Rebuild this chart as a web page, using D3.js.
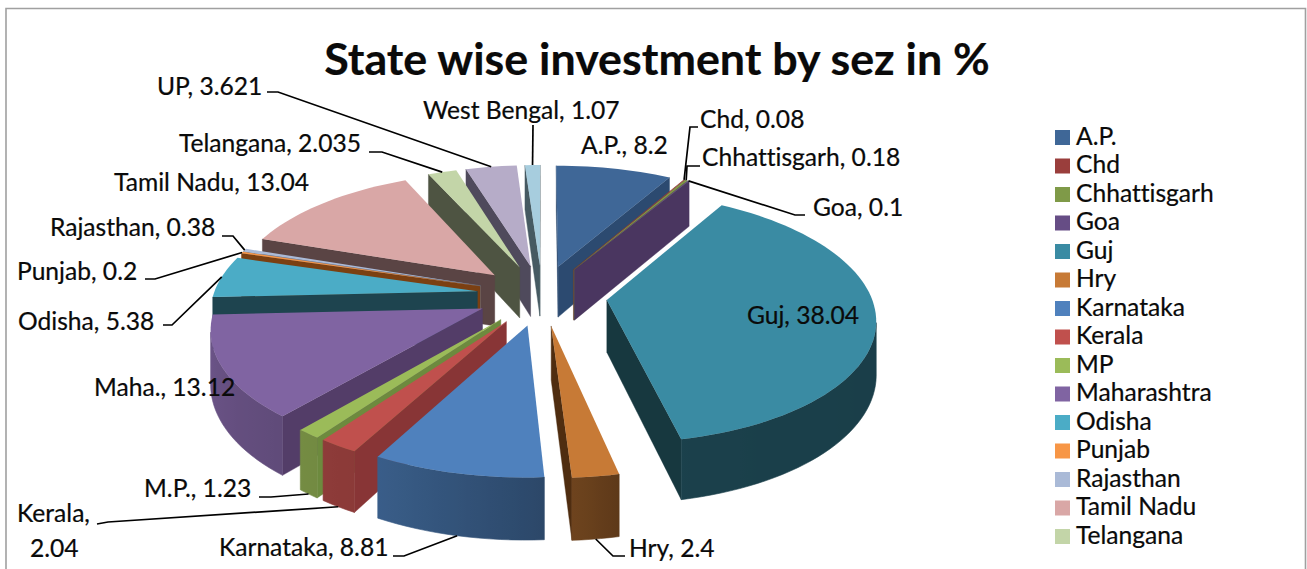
<!DOCTYPE html>
<html><head><meta charset="utf-8">
<script src="https://cdn.jsdelivr.net/npm/d3@7"></script>
<style>html,body{margin:0;padding:0;background:#fff;overflow:hidden}svg{display:block}text{font-family:Lato,"Open Sans",sans-serif;fill:#0a0a0a;stroke:#0a0a0a;stroke-width:.22px;font-variant-ligatures:none}</style>
</head><body><svg id="c" width="1307" height="569"></svg>
<script>
const categories=["A.P.","Chd","Chhattisgarh","Goa","Guj","Hry","Karnataka","Kerala","MP","Maharashtra","Odisha","Punjab","Rajasthan","Tamil Nadu","Telangana","UP","West Bengal"];
const values=[8.2,0.08,0.18,0.1,38.04,2.4,8.81,2.04,1.23,13.12,5.38,0.2,0.38,13.04,2.035,3.621,1.07];
const valueLabels=["8.2","0.08","0.18","0.1","38.04","2.4","8.81","2.04","1.23","13.12","5.38","0.2","0.38","13.04","2.035","3.621","1.07"];
const labelNames=["A.P.","Chd","Chhattisgarh","Goa","Guj","Hry","Karnataka","Kerala","M.P.","Maha.","Odisha","Punjab","Rajasthan","Tamil Nadu","Telangana","UP","West Bengal"];
const legendCount=15;
const topColors=["#3f6797","#9a3e3c","#7f9a48","#664d85","#3a8ba3","#c77a36","#4f81bd","#c0504d","#9bbb59","#8064a2","#4bacc6","#f79646","#aabad7","#d9a7a6","#c3d5a8","#b6acc8","#a7cdde"];
const wallColors=["#2c4a70","#7a2f2e","#63793a","#4a3660","#17383f","#4f2d10","#2f4c72","#883536","#6d8a3e","#533d68","#1e444f","#7b4012","#6f7d96","#5a4444","#4e5442","#4f4a5c","#465a62"];
// label layout: text start x, centre y, leader waypoints
const labelX=[581,700,702,813,747,629,219,17,144,94,18,17,50,114,179,157,423];
const labelY=[148,122,160,210,318,551,550,516,491,390,324,274,230,185,146,89,113];
const leaders=[null,[[698,127],[690,127]],[[700,166],[687,166]],[[805,215],[795,215]],null,[[625,556],[613,556]],[[393,556],[404,556]],[[97,524],[108,522]],[[259,497],[271,497]],null,[[163,325],[172,325]],[[145,279],[155,279]],[[222,236],[233,236]],null,[[369,152],[382,152]],[[267,92],[278,92]],[[533,125]]];

const W=1307,H=569;
const cx=542,cy=295,R=264,B=122,K=0.1366,E=0.2475,D=52;
const svg=d3.select("#c");
const defs=svg.append("defs");
svg.append("path").attr("d",`M6 ${H+2}V8.5H1305.5V${H+2}`).attr("fill","none").attr("stroke","#a0a0a0").attr("stroke-width",1.6);

const pie=d3.pie().sort(null).startAngle(0).endAngle(2*Math.PI);
const arcs=pie(values).map((a,i)=>({...a,i,mid:(a.startAngle+a.endAngle)/2}));
const line=d3.line();
function project(a,r,th){
  const u=E*Math.sin(a.mid)+r*Math.sin(th);
  const v=-(E*Math.cos(a.mid))-r*Math.cos(th);
  const s=1/(1-K*v);
  return {x:cx+u*R*s,y:cy+v*B*s,d:D*s};
}
const shade=d3.scaleLinear().domain([0,167,176,207,265,360].map(d=>d*Math.PI/180)).range([.42,.46,.55,.72,.85,.85]);
const mult=(c,k)=>{const q=d3.rgb(c);return d3.rgb(q.r*k,q.g*k,q.b*k).formatHex();};
const quad=(p,q)=>line([[p.x,p.y],[q.x,q.y],[q.x,q.y+q.d],[p.x,p.y+p.d]])+"Z";

const g=svg.append("g");
const order=arcs.slice().sort((a,b)=>Math.cos(b.mid)-Math.cos(a.mid));
order.forEach(a=>{
  const sl=g.append("g").attr("class","slice");
  const apex=project(a,0,0);
  const n=Math.max(2,Math.ceil((a.endAngle-a.startAngle)/(2*Math.PI/180)));
  const th=d3.range(n+1).map(k=>a.startAngle+(a.endAngle-a.startAngle)*k/n);
  const rim=th.map(t=>project(a,1,t));
  const wc=wallColors[a.i];
  if(rim[0].x<apex.x) sl.append("path").attr("d",quad(apex,rim[0])).attr("fill",wc).attr("stroke",wc).attr("stroke-width",.4);
  if(rim[n].x>apex.x) sl.append("path").attr("d",quad(apex,rim[n])).attr("fill",wc).attr("stroke",wc).attr("stroke-width",.4);
  // outer wall: visible run of the rim, shaded with a left-right gradient
  const vis=d3.range(n+1).filter(k=>(k<n&&rim[k+1].x<rim[k].x)||(k>0&&rim[k].x<rim[k-1].x));
  if(vis.length>1){
    const x0=rim[vis[0]].x,x1=rim[vis[vis.length-1]].x;
    const id="w"+a.i;
    const gr=defs.append("linearGradient").attr("id",id).attr("gradientUnits","userSpaceOnUse").attr("x1",x0).attr("x2",x1).attr("y1",0).attr("y2",0);
    vis.forEach(k=>gr.append("stop").attr("offset",(rim[k].x-x0)/((x1-x0)||1)).attr("stop-color",mult(topColors[a.i],shade(th[k]))));
    const topEdge=vis.map(k=>[rim[k].x,rim[k].y]);
    const botEdge=vis.map(k=>[rim[k].x,rim[k].y+rim[k].d]).reverse();
    sl.append("path").attr("d",line([...topEdge,...botEdge])+"Z").attr("fill",`url(#${id})`).attr("stroke",`url(#${id})`).attr("stroke-width",.6);
  }
  const pts=[apex,...rim].map(p=>[p.x,p.y]);
  sl.append("path").attr("d",line(pts)+"Z").attr("fill",topColors[a.i]);
});

// leaders
arcs.forEach(a=>{
  const w=leaders[a.i]; if(!w) return;
  const p=project(a,1,a.mid);
  const front=Math.cos(a.mid)<0;
  const end=[p.x,p.y+(front?p.d:0)];
  svg.append("path").attr("d",line([...w,end])).attr("fill","none").attr("stroke","#000").attr("stroke-width",1.7);
});
// labels
const FS=24.6;
arcs.forEach(a=>{
  const name=labelNames[a.i],val=valueLabels[a.i];
  const t=svg.append("text").attr("x",labelX[a.i]).attr("y",labelY[a.i]).attr("dominant-baseline","middle").attr("font-size",FS);
  if(name==="Kerala"){
    t.text(name+",");
    svg.append("text").attr("x",30).attr("y",551).attr("dominant-baseline","middle").attr("font-size",FS).text(val);
  } else t.text(name+", "+val);
});
svg.append("text").attr("x",657).attr("y",64).attr("text-anchor","middle").attr("dominant-baseline","middle").attr("font-size",44.8).attr("font-weight",700).text("State wise investment by sez in %");
// legend
const legendY=d3.scaleLinear().domain([0,14]).range([137.5,536.5]);
const lg=svg.append("g");
categories.slice(0,legendCount).forEach((c,i)=>{
  lg.append("rect").attr("x",1055).attr("y",legendY(i)-7.5).attr("width",15).attr("height",15).attr("fill",topColors[i]);
  lg.append("text").attr("x",1076).attr("y",legendY(i)+1).attr("dominant-baseline","middle").attr("font-size",FS).text(c);
});
</script></body></html>
